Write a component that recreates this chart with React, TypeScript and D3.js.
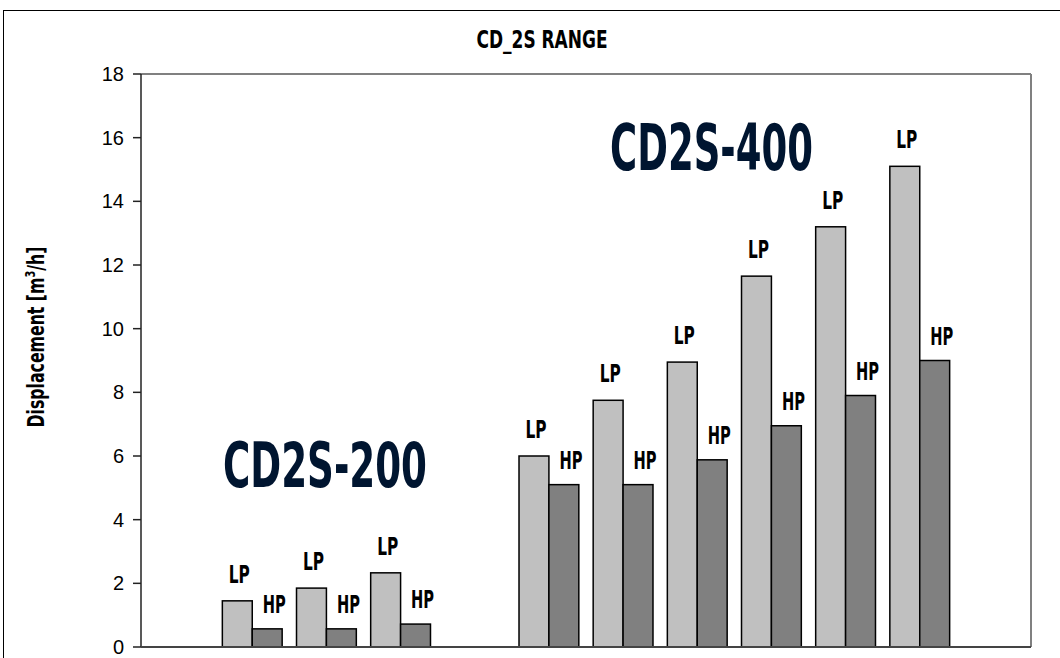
import React from "react";
import * as d3 from "d3";

const categories = ["gapA", "200-1", "200-2", "200-3", "gapB", "400-1", "400-2", "400-3", "400-4", "400-5", "400-6", "gapC"];
const lpValues: (number | null)[] = [null, 1.45, 1.85, 2.33, null, 6.0, 7.75, 8.95, 11.65, 13.2, 15.1, null];
const hpValues: (number | null)[] = [null, 0.57, 0.57, 0.72, null, 5.1, 5.1, 5.88, 6.95, 7.9, 9.0, null];
const seriesNames = ["LP", "HP"];
const yTicks = [0, 2, 4, 6, 8, 10, 12, 14, 16, 18];
const title = "CD_2S RANGE";
const yLabel = "Displacement [m";
const modelLabels = ["CD2S-200", "CD2S-400"];

const W = 1060;
const H = 658;
const plot = { left: 141, right: 1031, top: 74, bottom: 647 };
const COND = "'Liberation Sans Narrow', 'DejaVu Sans Condensed', 'Roboto Condensed', sans-serif";
const ARIAL = "'Liberation Sans', Arial, sans-serif";

export default function App() {
  const x0 = d3.scaleBand<string>().domain(categories).range([plot.left, plot.right]).padding(0);
  const x1 = d3.scaleBand<string>().domain(seriesNames).range([0, x0.bandwidth()]).paddingInner(0).paddingOuter(0.24);
  const y = d3.scaleLinear().domain([0, 18]).range([plot.bottom, plot.top]);
  const colors: Record<string, string> = { LP: "#C0C0C0", HP: "#808080" };
  const labelDx: Record<string, number> = { LP: 2, HP: 7 };
  const labelDy: Record<string, number> = { LP: 18, HP: 16 };
  const labelW: Record<string, number> = { LP: 21, HP: 23 };

  const bars: { cat: string; s: string; v: number }[] = [];
  categories.forEach((c, i) => {
    const lp = lpValues[i];
    const hp = hpValues[i];
    if (lp != null) bars.push({ cat: c, s: "LP", v: lp });
    if (hp != null) bars.push({ cat: c, s: "HP", v: hp });
  });

  return (
    <svg width={W} height={H} style={{ position: "absolute", left: 0, top: 0, background: "#fff" }}>
      <rect x={0} y={0} width={W} height={H} fill="#fff" />
      <rect x={3.5} y={10.5} width={W + 20} height={H + 20} fill="none" stroke="#000" strokeWidth={1} />
      <g transform="translate(542,48) scale(1,1.3)">
        <text x={0} y={0} textAnchor="middle" fontFamily={COND} fontWeight="bold" fontSize={19} textLength={131} lengthAdjust="spacingAndGlyphs" fill="#000">
          {title}
        </text>
      </g>
      {/* plot frame */}
      <line x1={plot.left} x2={plot.right} y1={plot.top} y2={plot.top} stroke="#808080" strokeWidth={2} />
      <line x1={plot.right} x2={plot.right} y1={plot.top} y2={plot.bottom} stroke="#808080" strokeWidth={2} />
      {/* bars */}
      {bars.map((b, i) => {
        const bx = (x0(b.cat) as number) + (x1(b.s) as number);
        return (
          <rect key={"b" + i} x={bx} y={y(b.v)} width={x1.bandwidth()} height={plot.bottom - y(b.v)} fill={colors[b.s]} stroke="#000" strokeWidth={1.5} />
        );
      })}
      {bars.map((b, i) => {
        const cx = (x0(b.cat) as number) + (x1(b.s) as number) + x1.bandwidth() / 2 + labelDx[b.s];
        return (
          <g key={"l" + i} transform={`translate(${cx},${y(b.v) - labelDy[b.s]}) scale(1,1.45)`}>
            <text x={0} y={0} textAnchor="middle" fontFamily={COND} fontWeight="bold" fontSize={17} textLength={labelW[b.s]} lengthAdjust="spacingAndGlyphs" fill="#000">
              {b.s}
            </text>
          </g>
        );
      })}
      {/* axes */}
      <line x1={plot.left} x2={plot.left} y1={plot.top} y2={plot.bottom} stroke="#222" strokeWidth={1.5} />
      <line x1={plot.left} x2={plot.right} y1={plot.bottom} y2={plot.bottom} stroke="#444" strokeWidth={2} />
      {yTicks.map((t) => (
        <g key={"t" + t}>
          <line x1={133} x2={plot.left} y1={y(t)} y2={y(t)} stroke="#222" strokeWidth={1.5} />
          <text x={124} y={y(t)} dy="0.35em" textAnchor="end" fontFamily={ARIAL} fontSize={20} fill="#000">
            {t}
          </text>
        </g>
      ))}
      <g transform="translate(44,337) rotate(-90) scale(1,1.3)">
        <text x={0} y={0} textAnchor="middle" fontFamily={COND} fontWeight="bold" fontSize={17.5} fill="#000">
          {yLabel}
          <tspan dy={-7} fontSize={11}>3</tspan>
          <tspan dy={7}>/h]</tspan>
        </text>
      </g>
      {/* model annotations */}
      <g transform="translate(325,487) scale(1,1.5)">
        <text x={0} y={0} textAnchor="middle" fontFamily={COND} fontWeight="bold" fontSize={41} textLength={204} lengthAdjust="spacingAndGlyphs" fill="#001530">
          {modelLabels[0]}
        </text>
      </g>
      <g transform="translate(711.5,170) scale(1,1.56)">
        <text x={0} y={0} textAnchor="middle" fontFamily={COND} fontWeight="bold" fontSize={41} textLength={203} lengthAdjust="spacingAndGlyphs" fill="#001530">
          {modelLabels[1]}
        </text>
      </g>
    </svg>
  );
}
